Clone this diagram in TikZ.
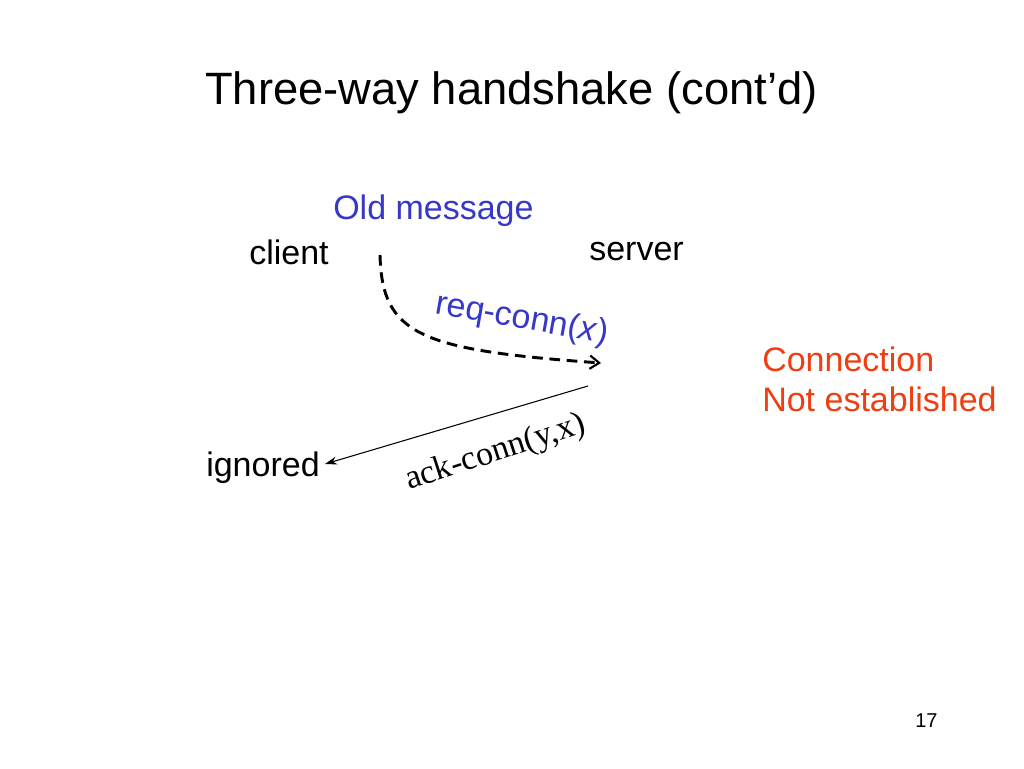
\documentclass[tikz,border=0pt]{standalone}
\usepackage{fontspec}
\setmainfont{Liberation Sans}
\newfontfamily\timesf{Liberation Serif}
\usetikzlibrary{arrows.meta}
\definecolor{msgblue}{RGB}{55,55,200}
\definecolor{noterd}{RGB}{238,62,18}
\tikzset{
  lbl/.style={anchor=base west, inner sep=0pt, font=\fontsize{25.5}{30}\selectfont},
  dashmsg/.style={line width=2.2pt, dash pattern=on 8pt off 5pt, -{Straight Barb[length=7pt,width=10pt,line width=1.6pt]}},
  ackmsg/.style={line width=0.8pt, -{Stealth[length=9pt,width=6pt]}}
}
\begin{document}
\begin{tikzpicture}[x=0.75pt,y=-0.75pt]
\useasboundingbox (0,0) rectangle (1024,768);
\node[lbl, font=\fontsize{34}{40}\selectfont] (title) at (205,104) {Three-way handshake (cont’d)};
\node[lbl, text=msgblue] (old) at (333,219) {Old message};
\node[lbl] (client) at (249,264) {client};
\node[lbl] (server) at (589,260) {server};
\node[lbl] (ignored) at (206,476) {ignored};
\node[lbl, text=noterd] (note1) at (762,371) {Connection};
\node[lbl, text=noterd] (note2) at (762,411) {Not established};
\node[lbl, font=\fontsize{15}{18}\selectfont] (page) at (915,727) {17};
\coordinate (oldstart) at (380,255);
\coordinate (reqend) at (601,363);
\coordinate (ackstart) at (588,386);
\coordinate (ackend) at (325,464);
\draw[dashmsg] (oldstart) .. controls (382,335) and (420,350) .. (reqend);
\node[lbl, text=msgblue, rotate=-10] (req) at (434,313) {req-conn(\textit{x})};
\draw[ackmsg] (ackstart) -- (ackend);
\node[lbl, font=\timesf\fontsize{25.5}{30}\selectfont, rotate=18] (ack) at (409,490) {ack-conn(y,x)};
\end{tikzpicture}
\end{document}
